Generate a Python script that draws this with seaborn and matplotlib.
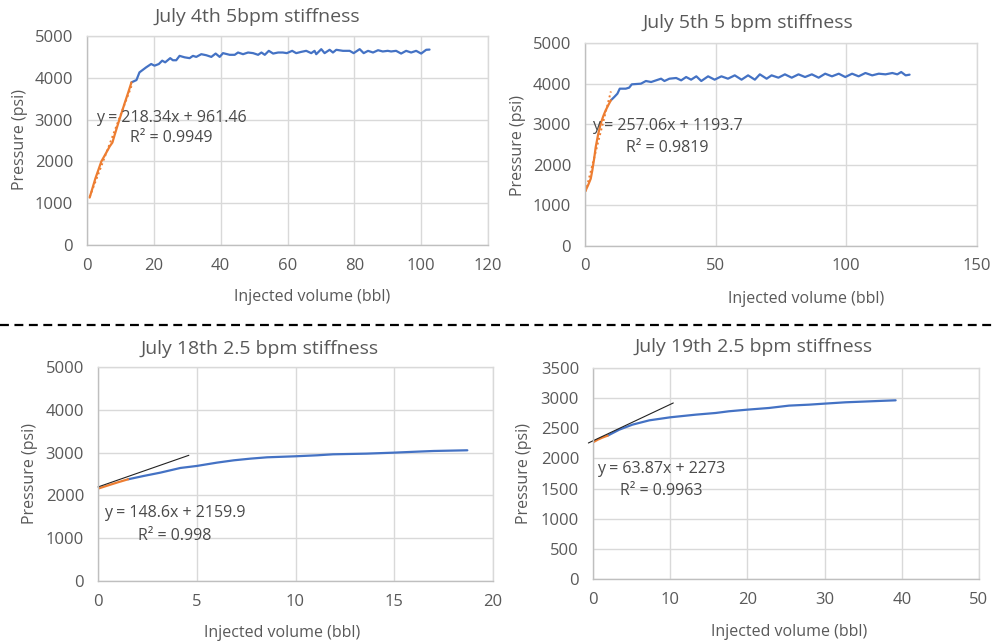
import numpy as np
import pandas as pd
import matplotlib
matplotlib.use("Agg")
import matplotlib.pyplot as plt
from matplotlib.lines import Line2D
import seaborn as sns

# ---- data ----
# July 4th 5 bpm
j4_fit_x = [0.8, 2.5, 4.3, 5.5, 6.8, 7.6, 8.3, 9.3, 10.3, 11.3, 12.3, 13.3]
j4_fit_y = [1135, 1590, 2000, 2170, 2360, 2450, 2640, 2900, 3150, 3400, 3640, 3890]
j4_x = [13.3, 14.8, 15.7, 17.7, 19.2, 20.2, 21.5, 22.5, 23.4, 24.9, 25.7, 26.7, 27.7, 29.2,
        30.7, 31.7, 32.7, 34.2, 35.7, 37.2, 38.5, 39.7, 40.7, 42.7, 44.2, 45.2, 46.7, 48.2,
        49.7, 51.2, 52.2, 53.2, 54.4, 55.7, 57.2, 58.6, 59.8, 61.4, 62.6, 64.1, 65.6, 67.1,
        68.1, 68.6, 70.1, 71.1, 72.6, 73.6, 74.6, 76.6, 78.6, 79.8, 81.6, 82.8, 84.1, 85.6,
        87.1, 88.5, 90.0, 91.0, 92.5, 94.0, 95.5, 97.0, 98.5, 100.0, 101.5, 102.5]
j4_y = [3890, 3946, 4130, 4250, 4330, 4290, 4330, 4410, 4370, 4470, 4420, 4420, 4525, 4490,
        4470, 4525, 4500, 4565, 4540, 4500, 4580, 4500, 4590, 4550, 4550, 4605, 4565, 4605,
        4590, 4550, 4605, 4550, 4645, 4580, 4605, 4605, 4590, 4645, 4590, 4620, 4645, 4590,
        4645, 4565, 4685, 4590, 4670, 4605, 4670, 4645, 4645, 4590, 4685, 4590, 4645, 4605,
        4660, 4630, 4645, 4630, 4645, 4580, 4645, 4605, 4645, 4580, 4670, 4675]

# July 5th 5 bpm
j5_fit_x = [0.26, 1.2, 2.2, 2.8, 3.5, 4.1, 5.0, 6.0, 7.0, 7.9, 9.0, 9.9]
j5_fit_y = [1371, 1500, 1658, 1864, 2150, 2438, 2740, 3013, 3200, 3341, 3480, 3588]
j5_x = [9.9, 11.2, 12.4, 13.3, 15.6, 16.9, 17.9, 21.4, 23.3, 25.3, 27.2, 29.1, 30.4, 32.3,
        34.9, 36.8, 38.7, 40.6, 42.6, 44.5, 47.1, 49.6, 52.2, 54.7, 57.3, 59.9, 62.4, 65.0,
        66.9, 69.5, 71.4, 74.0, 76.5, 79.1, 81.7, 84.2, 86.8, 89.4, 91.9, 94.5, 97.1, 99.6,
        102.2, 104.7, 107.3, 109.9, 112.4, 115.0, 117.6, 119.5, 121.0, 122.7, 124.2]
j5_y = [3588, 3670, 3752, 3875, 3875, 3900, 3982, 3998, 4064, 4039, 4080, 4121, 4064, 4121,
        4138, 4080, 4162, 4097, 4179, 4064, 4179, 4097, 4179, 4121, 4203, 4097, 4203, 4097,
        4228, 4121, 4203, 4146, 4228, 4146, 4228, 4162, 4228, 4146, 4244, 4179, 4244, 4162,
        4244, 4179, 4261, 4203, 4244, 4228, 4261, 4228, 4285, 4203, 4220]

# July 18th 2.5 bpm
j18_fit_x = [0.0, 0.5, 1.0, 1.52]
j18_fit_y = [2158, 2232, 2305, 2376]
j18_x = [1.52, 2.31, 3.16, 4.17, 5.0, 6.03, 6.88, 7.72, 8.56, 10.0, 11.1, 11.9, 13.6,
         15.0, 16.2, 17.0, 18.7]
j18_y = [2376, 2454, 2532, 2641, 2688, 2766, 2820, 2859, 2890, 2914, 2937, 2960, 2976,
         2999, 3023, 3038, 3054]
j18_tan_x = [0.0, 4.6]
j18_tan_y = [2197, 2937]

# July 19th 2.5 bpm
j19_fit_x = [0.0, 0.6, 1.2, 1.9]
j19_fit_y = [2267, 2310, 2345, 2378]
j19_x = [1.9, 3.4, 5.1, 7.3, 10.0, 13.3, 15.9, 17.6, 20.0, 22.8, 25.4, 28.0, 30.0, 32.7,
         34.9, 37.0, 39.2]
j19_y = [2378, 2477, 2560, 2632, 2682, 2726, 2754, 2782, 2809, 2837, 2876, 2892, 2909,
         2931, 2942, 2953, 2964]
j19_tan_x = [-0.6, 10.4]
j19_tan_y = [2256, 2920]

titles = ["July 4th 5bpm stiffness", "July 5th 5 bpm stiffness",
          "July 18th 2.5 bpm stiffness", "July 19th 2.5 bpm stiffness"]
equations = ["y = 218.34x + 961.46", "y = 257.06x + 1193.7",
             "y = 148.6x + 2159.9", "y = 63.87x + 2273"]
r2_labels = ["R² = 0.9949", "R² = 0.9819", "R² = 0.998", "R² = 0.9963"]

BLUE = "#4472C4"
ORANGE = "#ED7D31"
TXT = "#595959"
GRID = "#D9D9D9"

sns.set_theme(style="whitegrid")
plt.rcParams['font.family'] = ['Open Sans', 'DejaVu Sans']

W, H = 992, 642
fig = plt.figure(figsize=(W / 100, H / 100), dpi=100)


def px_axes(l, t, r, b):
    return fig.add_axes([l / W, 1 - b / H, (r - l) / W, (b - t) / H])


panels = [
    dict(box=(87, 36, 488, 245), xlim=(0, 120), xstep=20, ylim=(0, 5000), ystep=1000,
         fx=j4_fit_x, fy=j4_fit_y, bx=j4_x, by=j4_y, tan=None, reg=True,
         title=(257, 17), xl=(312, 297), yl=(20, 140), eq=(25.3, 3048, 2548)),
    dict(box=(585, 43, 977, 246), xlim=(0, 150), xstep=50, ylim=(0, 5000), ystep=1000,
         fx=j5_fit_x, fy=j5_fit_y, bx=j5_x, by=j5_y, tan=None, reg=True,
         title=(748, 23), xl=(806, 299), yl=(518, 145), eq=(31.4, 2956, 2414)),
    dict(box=(98, 367, 493, 581), xlim=(0, 20), xstep=5, ylim=(0, 5000), ystep=1000,
         fx=j18_fit_x, fy=j18_fit_y, bx=j18_x, by=j18_y, tan=(j18_tan_x, j18_tan_y), reg=False,
         title=(260, 349), xl=(282, 633), yl=(30, 473), eq=(3.9, 1589, 1051)),
    dict(box=(593, 368, 979, 579), xlim=(0, 50), xstep=10, ylim=(0, 3500), ystep=500,
         fx=j19_fit_x, fy=j19_fit_y, bx=j19_x, by=j19_y, tan=(j19_tan_x, j19_tan_y), reg=False,
         title=(754, 347), xl=(789, 632), yl=(524, 473), eq=(8.8, 1825, 1460)),
]

for i, p in enumerate(panels):
    ax = px_axes(*p["box"])
    blue = pd.DataFrame({"x": p["bx"], "y": p["by"]})
    orange = pd.DataFrame({"x": p["fx"], "y": p["fy"]})
    sns.lineplot(data=blue, x="x", y="y", ax=ax, color=BLUE, lw=1.6, estimator=None, sort=False)
    sns.lineplot(data=orange, x="x", y="y", ax=ax, color=ORANGE, lw=1.6, estimator=None, sort=False)
    if p["reg"]:
        sns.regplot(data=orange, x="x", y="y", ax=ax, scatter=False, ci=None, truncate=True,
                    color=ORANGE, line_kws=dict(ls=(0, (1, 1.5)), lw=1.4))
    if p["tan"] is not None:
        ax.plot(p["tan"][0], p["tan"][1], color="#222222", lw=0.8, clip_on=False)

    ax.set_xlim(*p["xlim"])
    ax.set_ylim(*p["ylim"])
    ax.set_xticks(np.arange(p["xlim"][0], p["xlim"][1] + 0.1, p["xstep"]))
    ax.set_yticks(np.arange(p["ylim"][0], p["ylim"][1] + 0.1, p["ystep"]))
    ax.set_xlabel("")
    ax.set_ylabel("")
    ax.grid(True, color=GRID, lw=1)
    for s in ax.spines.values():
        s.set_color(GRID)
        s.set_linewidth(1)
    ax.spines["left"].set_color("#BFBFBF")
    ax.spines["bottom"].set_color("#BFBFBF")
    ax.tick_params(axis="both", length=0, labelsize=12, labelcolor=TXT)
    ax.tick_params(axis="y", pad=10)
    ax.tick_params(axis="x", pad=9)

    ex, ey1, ey2 = p["eq"]
    ax.text(ex, ey1, equations[i], ha="center", va="center", fontsize=11.5, color="#4a4a4a")
    ax.text(ex, ey2, r2_labels[i], ha="center", va="center", fontsize=11.5, color="#4a4a4a")

    tx, ty = p["title"]
    fig.text(tx / W, 1 - ty / H, titles[i], ha="center", va="center", fontsize=14, color=TXT)
    lx, ly = p["xl"]
    fig.text(lx / W, 1 - ly / H, "Injected volume (bbl)", ha="center", va="center",
             fontsize=11.5, color=TXT)
    yx, yy = p["yl"]
    fig.text(yx / W, 1 - yy / H, "Pressure (psi)", ha="center", va="center",
             fontsize=11.5, color=TXT, rotation=90)

fig.add_artist(Line2D([0, 1], [1 - 325 / H, 1 - 325 / H], transform=fig.transFigure,
                      color="black", lw=1.6, ls=(0, (4, 2.5))))

fig.savefig("out.png", dpi=100)
